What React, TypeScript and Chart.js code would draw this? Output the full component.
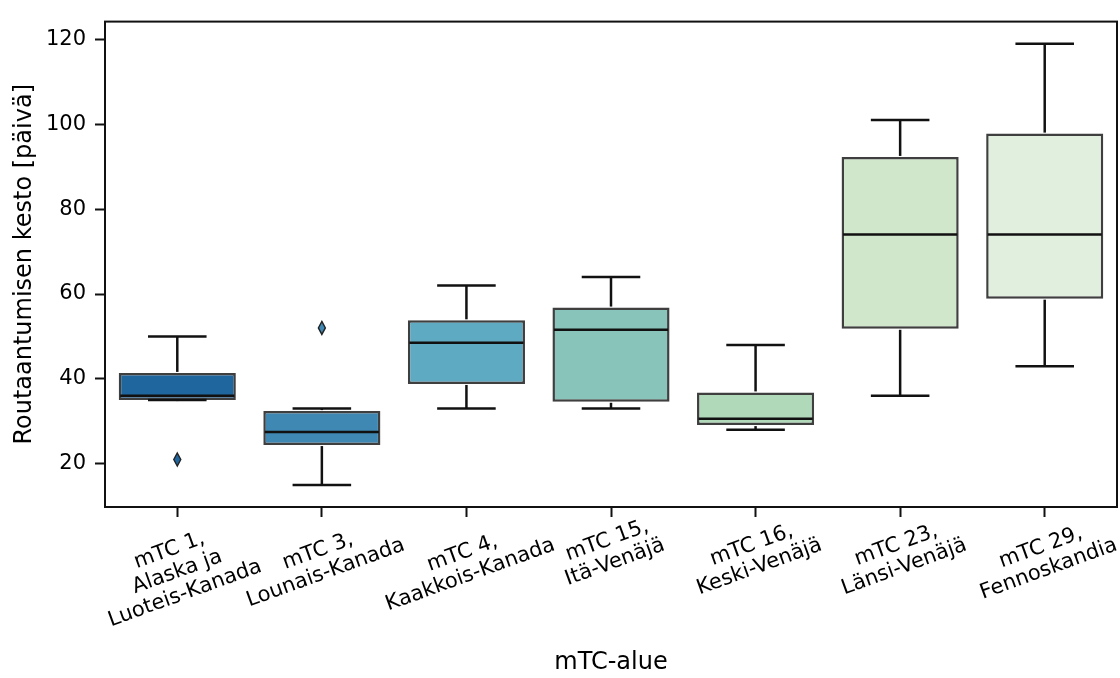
import { useEffect, useRef } from "react";
import { Chart, registerables } from "chart.js";

Chart.register(...registerables);

// Frost-season length per mTC region (days): five-number summaries plus outliers
const regions: string[][] = [
  ["mTC 1,", "Alaska ja", "Luoteis-Kanada"],
  ["mTC 3,", "Lounais-Kanada"],
  ["mTC 4,", "Kaakkois-Kanada"],
  ["mTC 15,", "Itä-Venäjä"],
  ["mTC 16,", "Keski-Venäjä"],
  ["mTC 23,", "Länsi-Venäjä"],
  ["mTC 29,", "Fennoskandia"],
];
const whiskerLow = [35, 15, 33, 33, 28, 36, 43];
const quartile1 = [35, 24.4, 38.8, 34.6, 29.1, 51.8, 58.9];
const medians = [36, 27.5, 48.5, 51.6, 30.6, 74, 74];
const quartile3 = [41.4, 32.4, 53.8, 56.8, 36.8, 92.3, 97.8];
const whiskerHigh = [50, 33, 62, 64, 48, 101, 119];
const outliers: number[][] = [[21], [52], [], [], [], [], []];
const boxColors = ["#1f669f", "#3e88b3", "#5eaac3", "#88c4b9", "#afd9b8", "#d0e7cc", "#e1efdf"];
const yTicks = [20, 40, 60, 80, 100, 120];
const yMin = 9.8;
const yMax = 124.2;

const FONT = '"DejaVu Sans"';
const TICK_FONT = 21;
const TITLE_FONT = 24;
const TICK_LEN = 10;
const LABEL_PAD = -5;
const LINE_STEP = 23;
const ROTATION = 20;
const INK = "#111111";
const EDGE = "#3f3f3f";

// Whiskers, caps, medians, outliers and the axes frame
const boxPlotPlugin = {
  id: "boxPlotParts",
  afterDatasetsDraw(chart: any) {
    const { ctx, chartArea } = chart;
    const y = chart.scales.y;
    const meta = chart.getDatasetMeta(0);
    const line = (x1: number, y1: number, x2: number, y2: number) => {
      ctx.beginPath();
      ctx.moveTo(x1, y1);
      ctx.lineTo(x2, y2);
      ctx.stroke();
    };
    ctx.save();
    ctx.lineCap = "butt";
    meta.data.forEach((bar: any, i: number) => {
      const { x, width } = bar.getProps(["x", "width"], true);
      const half = width / 2;
      const capHalf = width / 4;
      const yHi = y.getPixelForValue(whiskerHigh[i]);
      const yLo = y.getPixelForValue(whiskerLow[i]);
      ctx.strokeStyle = INK;
      ctx.lineWidth = 2.5;
      line(x, y.getPixelForValue(quartile3[i]) - 1, x, yHi);
      line(x, y.getPixelForValue(quartile1[i]) + 1, x, yLo);
      line(x - capHalf, yHi, x + capHalf, yHi);
      line(x - capHalf, yLo, x + capHalf, yLo);
      line(x - half + 1.5, y.getPixelForValue(medians[i]), x + half - 1.5, y.getPixelForValue(medians[i]));
      outliers[i].forEach((v) => {
        const py = y.getPixelForValue(v);
        ctx.beginPath();
        ctx.moveTo(x, py - 6.5);
        ctx.lineTo(x + 3.5, py);
        ctx.lineTo(x, py + 6.5);
        ctx.lineTo(x - 3.5, py);
        ctx.closePath();
        ctx.fillStyle = boxColors[i];
        ctx.fill();
        ctx.lineWidth = 1.4;
        ctx.strokeStyle = "#222";
        ctx.stroke();
      });
    });
    ctx.strokeStyle = INK;
    ctx.lineWidth = 2;
    ctx.strokeRect(chartArea.left, chartArea.top, chartArea.right - chartArea.left, chartArea.bottom - chartArea.top);
    ctx.restore();
  },
};

// Category labels rotated about their centre below each tick
const rotatedLabelPlugin = {
  id: "rotatedCategoryLabels",
  afterDraw(chart: any) {
    const { ctx } = chart;
    const xs = chart.scales.x;
    const th = (ROTATION * Math.PI) / 180;
    ctx.save();
    ctx.font = `${TICK_FONT}px ${FONT}`;
    ctx.fillStyle = "#000";
    ctx.textAlign = "center";
    ctx.textBaseline = "middle";
    (chart.data.labels as string[][]).forEach((lines, i) => {
      const x = xs.getPixelForTick(i);
      const w = Math.max(...lines.map((l) => ctx.measureText(l).width));
      const h = lines.length * LINE_STEP;
      const boxH = w * Math.sin(th) + h * Math.cos(th);
      const cy = chart.chartArea.bottom + TICK_LEN + LABEL_PAD + boxH / 2;
      ctx.save();
      ctx.translate(x, cy);
      ctx.rotate(-th);
      lines.forEach((l, j) => ctx.fillText(l, 0, (j - (lines.length - 1) / 2) * LINE_STEP));
      ctx.restore();
    });
    ctx.restore();
  },
};

export default function App() {
  const canvasRef = useRef<HTMLCanvasElement | null>(null);

  useEffect(() => {
    const canvas = canvasRef.current;
    if (!canvas) return;
    const chart = new Chart(canvas, {
      type: "bar",
      data: {
        labels: regions,
        datasets: [
          {
            data: quartile1.map((v, i) => [v, quartile3[i]]),
            backgroundColor: boxColors,
            borderColor: EDGE,
            borderWidth: 2.5,
            borderSkipped: false,
            barPercentage: 0.81,
            categoryPercentage: 1.0,
          },
        ],
      },
      options: {
        responsive: false,
        animation: false,
        devicePixelRatio: 1,
        layout: { padding: { top: 13, right: 3, bottom: 0, left: 0 } },
        plugins: { legend: { display: false }, tooltip: { enabled: false } },
        scales: {
          x: {
            type: "category",
            offset: true,
            grid: {
              offset: false,
              drawOnChartArea: false,
              drawTicks: true,
              tickLength: TICK_LEN,
              tickWidth: 2,
              tickColor: INK,
            },
            border: { display: false },
            ticks: { display: false },
            title: {
              display: true,
              text: "mTC-alue",
              color: "#000",
              font: { family: FONT, size: TITLE_FONT },
              padding: { top: 0, bottom: 1 },
            },
            afterFit: (scale: any) => {
              scale.height = 678 - 507;
            },
          },
          y: {
            type: "linear",
            min: yMin,
            max: yMax,
            grid: {
              drawOnChartArea: false,
              drawTicks: true,
              tickLength: TICK_LEN,
              tickWidth: 2,
              tickColor: INK,
            },
            border: { display: false },
            ticks: {
              color: "#000",
              padding: 9,
              font: { family: FONT, size: TICK_FONT },
            },
            afterBuildTicks: (scale: any) => {
              scale.ticks = yTicks.map((v) => ({ value: v }));
            },
            title: {
              display: true,
              text: "Routaantumisen kesto [päivä]",
              color: "#000",
              font: { family: FONT, size: TITLE_FONT },
              padding: { top: 10, bottom: 0 },
            },
            afterFit: (scale: any) => {
              scale.width = 105;
            },
          },
        },
      },
      plugins: [boxPlotPlugin, rotatedLabelPlugin],
    });
    return () => chart.destroy();
  }, []);

  return (
    <div style={{ position: "fixed", left: 0, top: 0, width: 1120, height: 678, background: "#fff" }}>
      <canvas ref={canvasRef} width={1120} height={678} />
    </div>
  );
}
